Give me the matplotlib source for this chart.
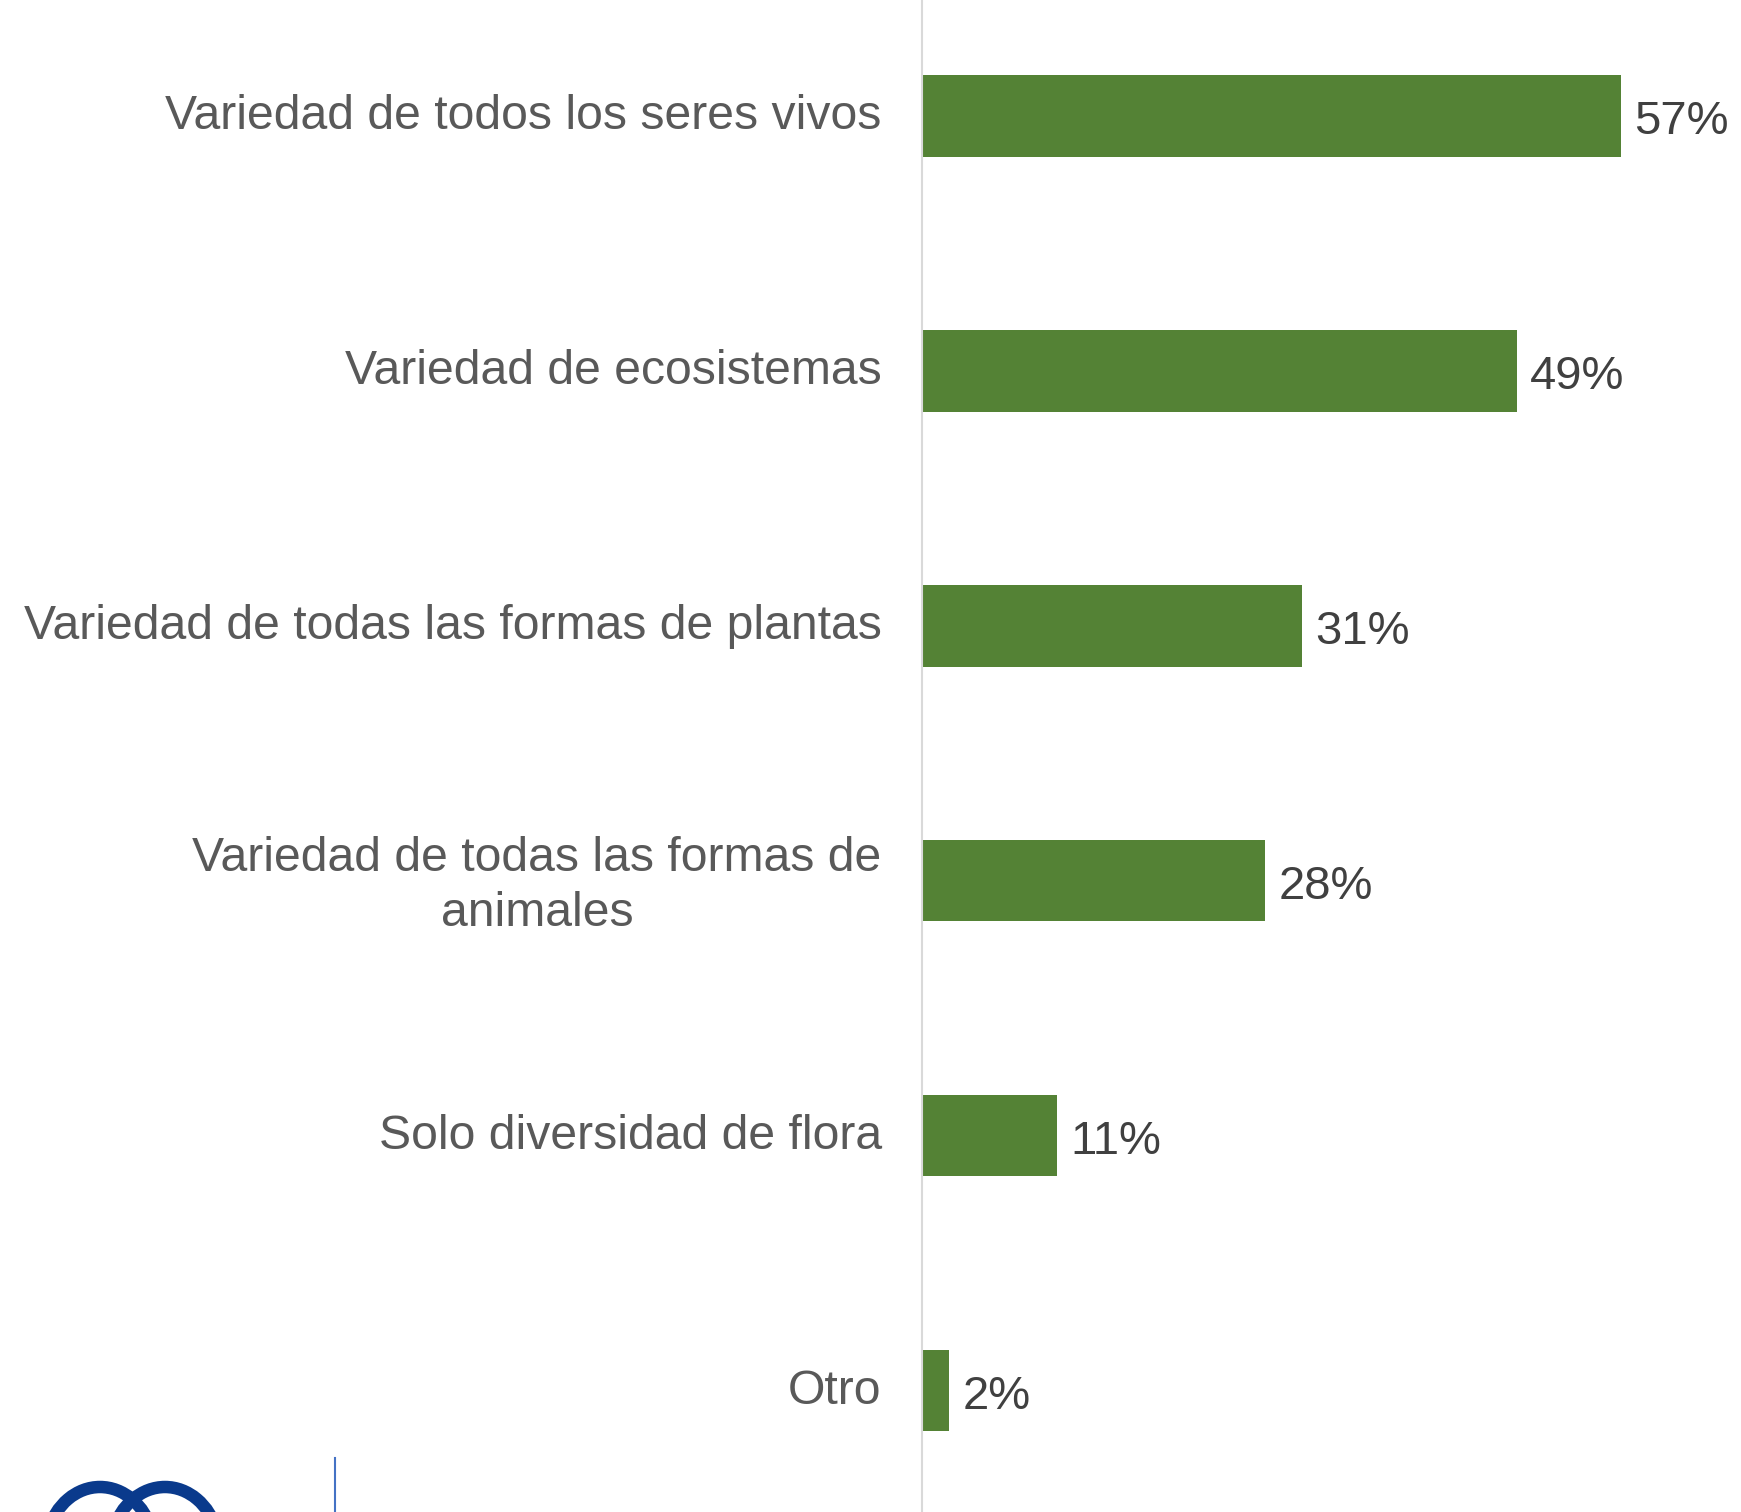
import matplotlib.pyplot as plt
from matplotlib.patches import Arc
from matplotlib.transforms import ScaledTranslation

plt.rcParams['font.family'] = ['Liberation Sans', 'DejaVu Sans']

categorias = ['Variedad de todos los seres vivos',
              'Variedad de ecosistemas',
              'Variedad de todas las formas de plantas',
              'Variedad de todas las formas de\nanimales',
              'Solo diversidad de flora',
              'Otro']
valores = [57, 48.5, 31, 28, 11, 2.2]
etiquetas = ['57%', '49%', '31%', '28%', '11%', '2%']

fig = plt.figure(figsize=(17.41, 15.12), dpi=100)
ax = fig.add_axes([922 / 1741, 0, 1 - 922 / 1741, 1])

y = list(range(len(categorias)))
ax.barh(y, valores, height=0.318, color='#548235')
for yi, v, t in zip(y, valores, etiquetas):
    ax.text(v + 1.1, yi + 0.025, t, va='center', ha='left', fontsize=34, color='#404040')

ax.set_xlim(0, 66.8)
ax.set_ylim(5.475, -0.455)
ax.set_yticks(y)
ax.set_yticklabels(categorias, fontsize=34.7, color='#595959', multialignment='center',
                   linespacing=1.27)
ax.tick_params(axis='y', length=0, pad=29)
# subir un poco las etiquetas
desplaz = ScaledTranslation(0, 0.045, fig.dpi_scale_trans)
for lab in ax.get_yticklabels():
    lab.set_transform(lab.get_transform() + desplaz)
ax.set_xticks([])
for s in ['top', 'right', 'bottom']:
    ax.spines[s].set_visible(False)
ax.spines['left'].set_color('#d9d9d9')
ax.spines['left'].set_linewidth(1.5)

# logos cortados abajo
fig.add_artist(plt.Line2D([335 / 1741, 335 / 1741], [0, 54 / 1512], color='#4472c4', lw=1.5))
for cx in [100, 165]:
    fig.add_artist(Arc((cx / 1741, -40 / 1512), 110 / 1741, 130 / 1512, theta1=25, theta2=155,
                       color='#0a3a8c', lw=9))

fig.savefig('out.png', dpi=100)
